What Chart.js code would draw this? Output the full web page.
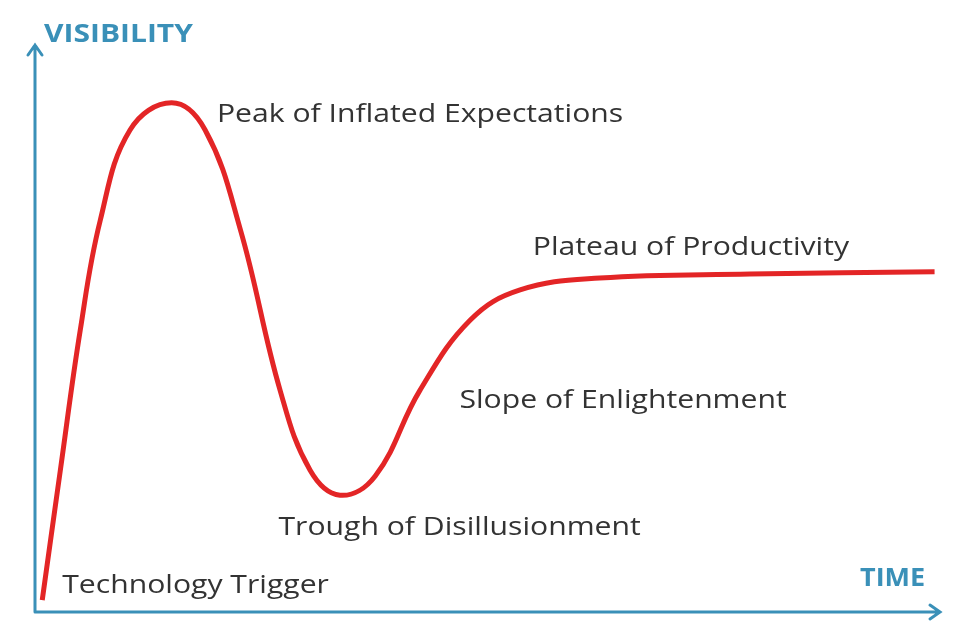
<!DOCTYPE html>
<html>
<head>
<meta charset="utf-8">
<script src="https://cdn.jsdelivr.net/npm/chart.js@4/dist/chart.umd.min.js"></script>
<style>
  html, body { margin: 0; padding: 0; background: #fff; }
  #wrap { width: 963px; height: 640px; }
</style>
</head>
<body>
<div id="wrap"><canvas id="hype"></canvas></div>
<script>
// Hype curve (x = time, y = visibility, both 0..100)
const timeX = [0.8, 2.8, 5, 7.2, 10.5, 15.1, 18.8, 22.7, 27.1, 30.4, 33.7, 37.6, 42.5, 48.1, 53.6, 62.4, 79, 99.4];
const visibilityY = [2.1, 25, 49.7, 69, 85, 89.8, 85, 67.4, 39, 25, 20.6, 24, 39, 51.5, 56.8, 58.9, 59.6, 60];

// Phase labels and where they sit (data units, left edge / middle of text)
const phaseNames = ['Peak of Inflated Expectations', 'Plateau of Productivity', 'Slope of Enlightenment', 'Trough of Disillusionment', 'Technology Trigger'];
const phaseX = [20.1, 55, 46.9, 26.9, 3];
const phaseY = [87.7, 64.3, 37.2, 14.8, 4.6];

const axisColor = '#3a90b8';

// draw text stretched sideways, the reference typeface is wider
function wideText(ctx, text, px, py, sx) {
  ctx.save();
  ctx.translate(px, py);
  ctx.scale(sx, 1);
  ctx.fillText(text, 0, 0);
  ctx.restore();
}

// axes with arrowheads, titles and phase labels
const decor = {
  id: 'decor',
  afterDraw(chart) {
    const { ctx, chartArea: a, scales: { x, y } } = chart;
    ctx.save();
    ctx.strokeStyle = axisColor;
    ctx.lineWidth = 3;
    ctx.lineCap = 'round';
    ctx.beginPath();
    ctx.moveTo(a.left, a.bottom); ctx.lineTo(a.left, a.top);
    ctx.moveTo(a.left - 7, a.top + 10); ctx.lineTo(a.left, a.top); ctx.lineTo(a.left + 7, a.top + 10);
    ctx.moveTo(a.left, a.bottom); ctx.lineTo(a.right, a.bottom);
    ctx.moveTo(a.right - 10, a.bottom - 7); ctx.lineTo(a.right, a.bottom); ctx.lineTo(a.right - 10, a.bottom + 7);
    ctx.stroke();

    ctx.fillStyle = axisColor;
    ctx.font = 'bold 25px "Open Sans"';
    ctx.textBaseline = 'middle';
    ctx.textAlign = 'left';
    wideText(ctx, 'VISIBILITY', a.left + 9, a.top - 10, 1.2);
    wideText(ctx, 'TIME', a.right - 80, a.bottom - 33, 1.08);

    ctx.fillStyle = '#333';
    ctx.font = '26px "Open Sans"';
    phaseNames.forEach((name, i) => {
      wideText(ctx, name, x.getPixelForValue(phaseX[i]), y.getPixelForValue(phaseY[i]), 1.16);
    });
    ctx.restore();
  }
};

new Chart(document.getElementById('hype'), {
  type: 'line',
  data: {
    datasets: [{
      data: timeX.map((t, i) => ({ x: t, y: visibilityY[i] })),
      borderColor: '#e32526',
      borderWidth: 5,
      pointRadius: 0,
      tension: 0.4,
      fill: false
    }]
  },
  options: {
    responsive: true,
    maintainAspectRatio: false,
    animation: false,
    layout: { padding: { left: 35, right: 23, top: 45, bottom: 28 } },
    plugins: { legend: { display: false }, tooltip: { enabled: false } },
    scales: {
      x: { type: 'linear', min: 0, max: 100, display: false },
      y: { min: 0, max: 100, display: false }
    }
  },
  plugins: [decor]
});
</script>
</body>
</html>
